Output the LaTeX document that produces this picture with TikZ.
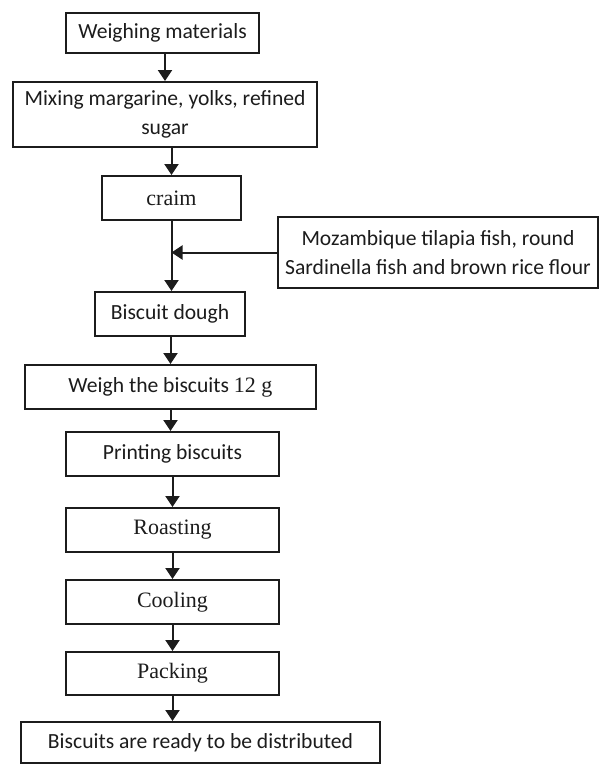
\documentclass[tikz,border=0pt]{standalone}
\usepackage{fontspec}
\setmainfont{Carlito}
\newfontfamily\timesfont{Liberation Serif}
\usetikzlibrary{arrows.meta,positioning,calc}
\definecolor{ink}{HTML}{1C1C1C}

\begin{document}
\begin{tikzpicture}[
  x=1pt, y=-1pt,
  >={Triangle[width=14pt,length=11pt]},
  flow/.style={->, draw=ink, line width=2pt},
  stage/.style={draw=ink, line width=2pt, fill=white, align=center,
                inner sep=0pt, text=ink, minimum height=44pt,
                font=\fontsize{21.6}{29.5}\selectfont},
  roman/.style={font=\timesfont\fontsize{22}{29.5}\selectfont}
]
\useasboundingbox (0,0) rectangle (600,764);

% Columna principal del proceso.
\node[stage, minimum width=193pt, minimum height=40pt] (weighing) at (162.5,33) {Weighing materials};
\node[stage, minimum width=304pt, minimum height=65pt] (mixing) at (165,114.5)
      {Mixing margarine, yolks, refined\\sugar};
\node[stage, roman, minimum width=139pt] (craim) at (171.5,198) {craim};
\node[stage, minimum width=320pt, minimum height=71pt] (extra) at (438,252.5)
      {Mozambique tilapia fish, round\\Sardinella fish and brown rice flour};
\node[stage, minimum width=150pt] (dough) at (170,314) {Biscuit dough};
\node[stage, minimum width=291pt] (weigh) at (170.5,387)
      {Weigh the biscuits {\timesfont\fontsize{22}{29.5}\selectfont 12 g}};
\node[stage, minimum width=213pt] (printing) at (172.5,454) {Printing biscuits};
\node[stage, roman, minimum width=213pt] (roasting) at (172.5,530) {Roasting};
\node[stage, roman, minimum width=213pt] (cooling) at (172.5,602) {Cooling};
\node[stage, roman, minimum width=213pt, minimum height=43pt] (packing) at (172.5,673.5) {Packing};
\node[stage, minimum width=359pt, minimum height=41pt] (ready) at (200.5,742.5)
      {Biscuits are ready to be distributed};

% Flechas entre etapas.
\draw[flow] (mixing.north |- weighing.south) -- (mixing.north);
\draw[flow] (craim.north |- mixing.south) -- (craim.north);
\draw[flow] (craim.south) -- (craim.south |- dough.north);
\draw[flow] (extra.west) -- (extra.west -| craim.south);
\draw[flow] (weigh.north |- dough.south) -- (weigh.north);
\draw[flow] (weigh.south) -- (weigh.south |- printing.north);
\draw[flow] (printing.south) -- (printing.south |- roasting.north);
\draw[flow] (roasting.south) -- (roasting.south |- cooling.north);
\draw[flow] (cooling.south) -- (cooling.south |- packing.north);
\draw[flow] (packing.south) -- (packing.south |- ready.north);

\end{tikzpicture}
\end{document}
